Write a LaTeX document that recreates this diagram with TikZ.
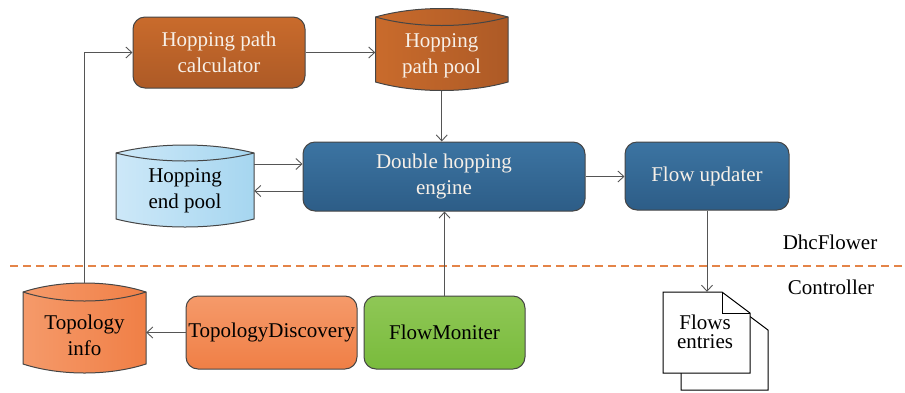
\documentclass[tikz,border=0pt]{standalone}
\usepackage{fontspec}
\setmainfont{Liberation Serif}
\usetikzlibrary{arrows.meta,calc}

\definecolor{linegray}{HTML}{555555}
\definecolor{edgegray}{HTML}{454545}
\definecolor{lighttext}{HTML}{F7F0E8}
\definecolor{rustA}{HTML}{C96B2C}
\definecolor{rustB}{HTML}{AD5A26}
\definecolor{blueA}{HTML}{3C74A2}
\definecolor{blueB}{HTML}{2D5D87}
\definecolor{skyA}{HTML}{CDE8F8}
\definecolor{skyB}{HTML}{A6D6F0}
\definecolor{coralA}{HTML}{F59A6A}
\definecolor{coralB}{HTML}{F07F46}
\definecolor{leafA}{HTML}{8FC756}
\definecolor{leafB}{HTML}{79BB3C}
\definecolor{dashorange}{RGB}{228,132,72}

\tikzset{
  arr/.style={draw=linegray, line width=0.9pt,
    -{Straight Barb[length=6pt,width=11pt,line width=0.9pt]}},
  procbox/.style={draw=edgegray, line width=1pt, rounded corners=12pt,
    inner sep=0pt, align=center, font=\fontsize{21}{26}\selectfont},
  rustbox/.style={procbox, top color=rustA, bottom color=rustB, text=lighttext},
  bluebox/.style={procbox, top color=blueA, bottom color=blueB, text=lighttext},
  coralbox/.style={procbox, top color=coralA, bottom color=coralB, text=black},
  leafbox/.style={procbox, top color=leafA, bottom color=leafB, text=black},
  drumedge/.style={draw=edgegray, line width=1pt},
  drumtext/.style={align=center, inner sep=0pt, font=\fontsize{21}{26}\selectfont},
  pagebox/.style={draw=black, line width=1pt, fill=white},
  sidelabel/.style={inner sep=0pt, font=\fontsize{21}{24}\selectfont},
  layerline/.style={draw=dashorange, line width=2pt, dash pattern=on 8pt off 5pt}
}

% Storage drum: #1 name, #2 x1, #3 x2, #4 top rim y, #5 bottom rim y,
% #6 rim bulge, #7 fill style
\newcommand\storagedrum[7]{%
  \path[#7, drumedge]
    (#2,#4) .. controls ({#2+0.3*(#3-#2)},{#4-4/3*#6}) and ({#3-0.3*(#3-#2)},{#4-4/3*#6}) .. (#3,#4)
    -- (#3,#5)
    .. controls ({#3-0.3*(#3-#2)},{#5+4/3*#6}) and ({#2+0.3*(#3-#2)},{#5+4/3*#6}) .. (#2,#5)
    -- cycle;
  \draw[drumedge]
    (#2,#4) .. controls ({#2+0.3*(#3-#2)},{#4+4/3*#6}) and ({#3-0.3*(#3-#2)},{#4+4/3*#6}) .. (#3,#4);
  \node[inner sep=0pt, minimum width={(#3-#2)*1pt}, minimum height={(#5-#4+2*#6)*1pt}]
    (#1) at ({(#2+#3)/2},{(#4+#5)/2}) {};
}

\begin{document}
\begin{tikzpicture}[x=1pt, y=-1pt]
\useasboundingbox (0,0) rectangle (905,392);

% upper layer
\node[rustbox, minimum width=172pt, minimum height=71pt] (calc) at (219,52.5)
  {Hopping path\\calculator};
\storagedrum{pool}{375.5}{508}{17}{82}{8.5}{left color=rustA, right color=rustB}
\node[drumtext, text=lighttext] (pooltext) at (441.5,56) {Hopping\\path pool};

\node[bluebox, minimum width=282pt, minimum height=69pt] (engine) at (444,176.5)
  {Double hopping\\engine};
\node[bluebox, minimum width=164pt, minimum height=68pt] (updater) at (707,176)
  {Flow updater};
\storagedrum{endpool}{116}{254}{153}{219}{8}{left color=skyA, right color=skyB}
\node[drumtext, text=black] (endtext) at (185,191) {Hopping\\end pool};

% layer boundary
\coordinate (dashL) at (10,265.5);
\coordinate (dashR) at (905,265.5);
\draw[layerline] (dashL) -- (dashR);
\node[sidelabel] (dhc) at (830,242) {DhcFlower};
\node[sidelabel] (ctrl) at (831,287) {Controller};

% controller layer
\storagedrum{topo}{23}{146}{292}{364}{9}{left color=coralA, right color=coralB}
\node[drumtext, text=black] (topotext) at (84.5,335) {Topology\\info};
\node[coralbox, minimum width=171pt, minimum height=73pt] (disc) at (271.5,332.5)
  {TopologyDiscovery};
\node[leafbox, minimum width=161pt, minimum height=73pt] (mon) at (444.5,332.5)
  {FlowMoniter};

% stacked flow-entry pages
\draw[pagebox] (681,309) -- (740,309) -- (768,330) -- (768,390) -- (681,390) -- cycle;
\draw[pagebox] (663,292) -- (722,292) -- (750,313) -- (750,373) -- (663,373) -- cycle;
\draw[black, line width=1pt] (722,292) -- (722,313) -- (750,313);
\node[inner sep=0pt, minimum width=87pt, minimum height=81pt] (doc) at (706.5,332.5) {};
\node[drumtext, font=\fontsize{21}{19}\selectfont] (doctext) at (705,332) {Flows\\entries};

% connectors
\draw[arr] (topo.north) |- (calc.west);
\draw[arr] (calc.east) -- (calc.east -| pool.west);
\draw[arr] (pool.south) -- (pool.south |- engine.north);
\coordinate (inA) at ([yshift=12.5pt]engine.west);
\coordinate (outA) at ([yshift=-14.5pt]engine.west);
\draw[arr] (inA -| endpool.east) -- (inA);
\draw[arr] (outA) -- (outA -| endpool.east);
\draw[arr] (engine.east) -- (engine.east -| updater.west);
\draw[arr] (updater.south) -- (updater.south |- doc.north);
\draw[arr] (mon.north) -- (mon.north |- engine.south);
\draw[arr] (disc.west) -- (disc.west -| topo.east);
\end{tikzpicture}
\end{document}
